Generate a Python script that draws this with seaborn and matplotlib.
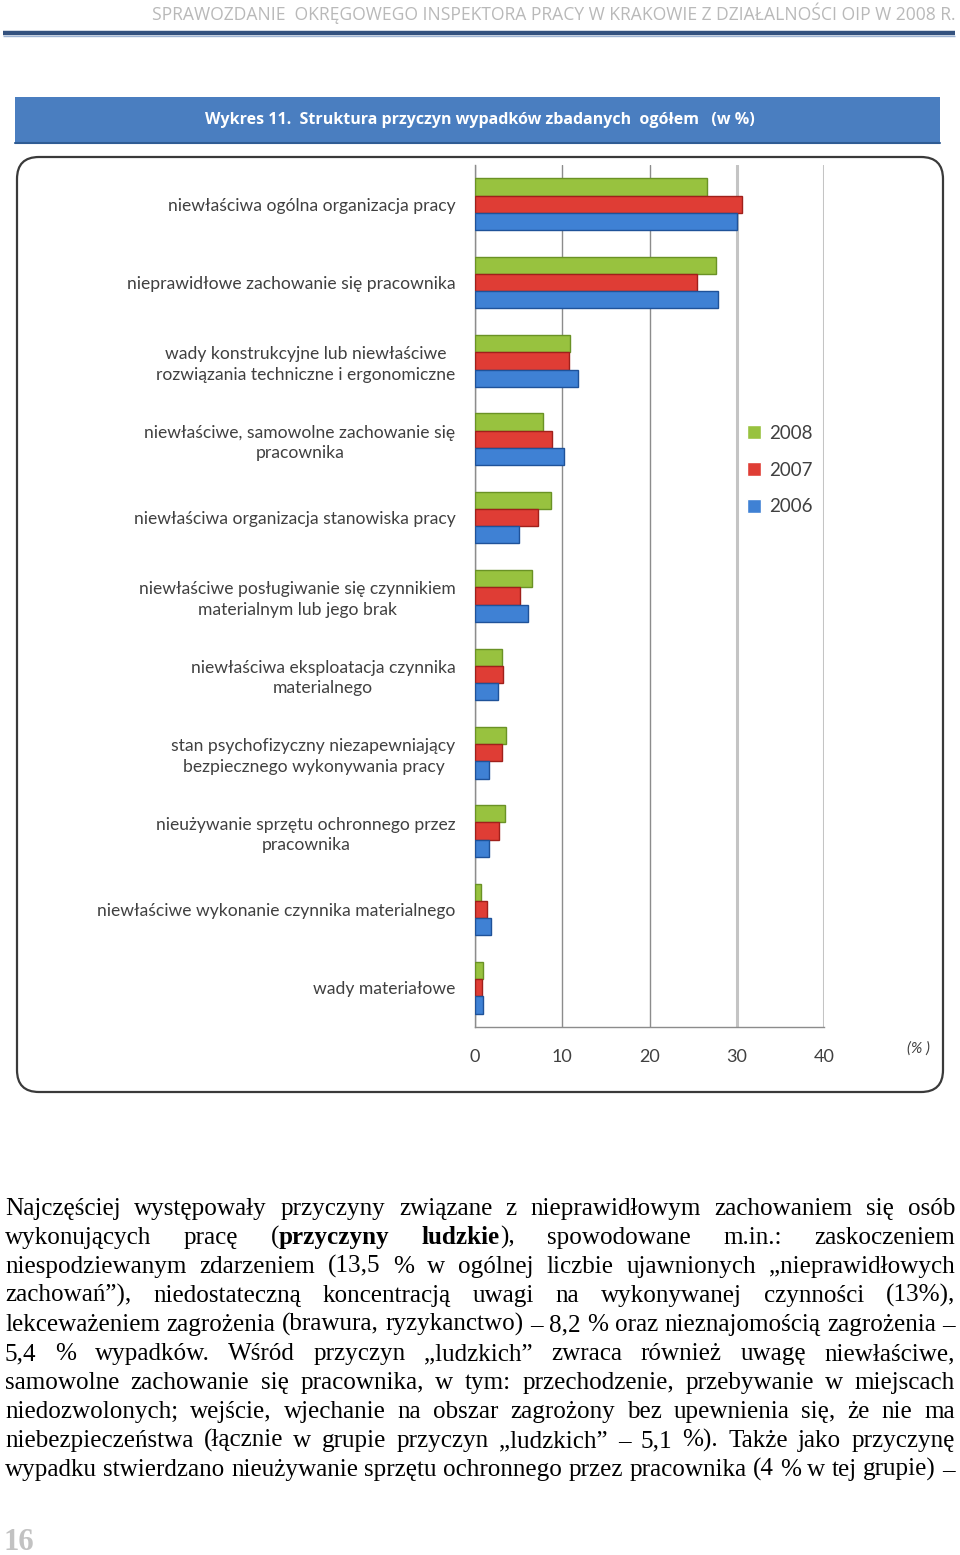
import numpy as np
import pandas as pd
import matplotlib
matplotlib.use("Agg")
import matplotlib.pyplot as plt
import seaborn as sns
import matplotlib.font_manager as fm
from matplotlib.patches import FancyBboxPatch, Rectangle
from matplotlib.lines import Line2D

# ---------------- data ----------------
categories = [
    "niewłaściwa ogólna organizacja pracy",
    "nieprawidłowe zachowanie się pracownika",
    "wady konstrukcyjne lub niewłaściwe\nrozwiązania techniczne i ergonomiczne",
    "niewłaściwe, samowolne zachowanie się\npracownika",
    "niewłaściwa organizacja stanowiska pracy",
    "niewłaściwe posługiwanie się czynnikiem\nmaterialnym lub jego brak",
    "niewłaściwa eksploatacja czynnika\nmaterialnego",
    "stan psychofizyczny niezapewniający\nbezpiecznego wykonywania pracy",
    "nieużywanie sprzętu ochronnego przez\npracownika",
    "niewłaściwe wykonanie czynnika materialnego",
    "wady materiałowe",
]
years = ["2008", "2007", "2006"]
v2008 = [26.6, 27.6, 10.9, 7.8, 8.7, 6.5, 3.1, 3.5, 3.4, 0.7, 0.9]
v2007 = [30.6, 25.5, 10.8, 8.8, 7.2, 5.2, 3.2, 3.1, 2.8, 1.4, 0.8]
v2006 = [30.0, 27.9, 11.8, 10.2, 5.0, 6.1, 2.6, 1.6, 1.6, 1.8, 0.9]
xticks = [0, 10, 20, 30, 40]

header_text = "SPRAWOZDANIE  OKRĘGOWEGO INSPEKTORA PRACY W KRAKOWIE Z DZIAŁALNOŚCI OIP W 2008 R."
chart_title = "Wykres 11.  Struktura przyczyn wypadków zbadanych  ogółem   (w %)"
paragraph_lines = [
    "Najczęściej występowały przyczyny związane z nieprawidłowym zachowaniem się osób",
    "wykonujących pracę (**przyczyny ludzkie**), spowodowane m.in.: zaskoczeniem",
    "niespodziewanym zdarzeniem (13,5 % w ogólnej liczbie ujawnionych „nieprawidłowych",
    "zachowań”), niedostateczną koncentracją uwagi na wykonywanej czynności (13%),",
    "lekceważeniem zagrożenia (brawura, ryzykanctwo) – 8,2 % oraz nieznajomością zagrożenia –",
    "5,4 % wypadków. Wśród przyczyn „ludzkich” zwraca również uwagę niewłaściwe,",
    "samowolne zachowanie się pracownika, w tym: przechodzenie, przebywanie w miejscach",
    "niedozwolonych; wejście, wjechanie na obszar zagrożony bez upewnienia się, że nie ma",
    "niebezpieczeństwa (łącznie w grupie przyczyn „ludzkich” – 5,1 %). Także jako przyczynę",
    "wypadku stwierdzano nieużywanie sprzętu ochronnego przez pracownika (4 % w tej grupie) –",
]
page_number = "16"

# ---------------- setup ----------------
sns.set_style("white")
avail = {f.name for f in fm.fontManager.ttflist}
NARROW = "Liberation Sans Narrow" if "Liberation Sans Narrow" in avail else "Open Sans"
SANS = "Lato" if "Lato" in avail else "DejaVu Sans"
SERIF = "Liberation Serif" if "Liberation Serif" in avail else "DejaVu Serif"
plt.rcParams["font.family"] = [SANS, "DejaVu Sans"]

W, H = 960, 1555
fig = plt.figure(figsize=(W / 100, H / 100), dpi=100)
fig.patch.set_facecolor("white")
renderer = fig.canvas.get_renderer()


def fx(x):
    return x / W


def fy(y):
    return 1 - y / H


def wpx(t):
    return t.get_window_extent(renderer=renderer).width


def fit(t, target):
    w = wpx(t)
    t.set_fontsize(t.get_fontsize() * target / w)


# ---------------- header ----------------
ht = fig.text(fx(955), fy(13), header_text, ha="right", va="center",
              color="#b9b9b9", fontsize=12, family=[NARROW, "DejaVu Sans"])
fit(ht, 803)
fig.add_artist(Line2D([fx(3), fx(955)], [fy(33), fy(33)], lw=3.2, color="#34527f",
                      solid_capstyle="butt"))
fig.add_artist(Line2D([fx(3), fx(955)], [fy(35.5), fy(35.5)], lw=1.0, color="#9db3d3",
                      solid_capstyle="butt"))

# ---------------- banner ----------------
fig.add_artist(Rectangle((fx(15), fy(143)), fx(940) - fx(15), (143 - 97) / H,
                         transform=fig.transFigure, facecolor="#4a7ec0",
                         edgecolor="none"))
fig.add_artist(Line2D([fx(15), fx(940)], [fy(142.5), fy(142.5)], lw=1.5, color="#2f5c94"))
tt = fig.text(fx(480), fy(120), chart_title, ha="center", va="center", color="white",
              fontsize=12, fontweight="bold", family=[NARROW, "DejaVu Sans"])
fit(tt, 550)

# ---------------- chart frame ----------------
frame = FancyBboxPatch((0.17, (H - 1092) / 100), (943 - 17) / 100, (1092 - 157) / 100,
                       boxstyle="round,pad=0,rounding_size=0.22",
                       transform=fig.dpi_scale_trans, facecolor="white",
                       edgecolor="#3a3a3a", lw=1.6, zorder=0)
fig.add_artist(frame)

# ---------------- bar chart ----------------
df = pd.DataFrame({
    "category": categories * 3,
    "year": ["2008"] * 11 + ["2007"] * 11 + ["2006"] * 11,
    "value": v2008 + v2007 + v2006,
})
palette = {"2008": "#98c23f", "2007": "#df3d35", "2006": "#3f81d4"}
edges = {"2008": "#6a9225", "2007": "#a0201b", "2006": "#1f5299"}

ax = fig.add_axes([fx(475), fy(1027), fx(824) - fx(475), (1027 - 165) / H])
ax.set_facecolor("none")
sns.barplot(data=df, x="value", y="category", hue="year", hue_order=years,
            order=categories, palette=palette, orient="h", width=0.66,
            saturation=1, ax=ax, dodge=True)
for cont, yr in zip(ax.containers, years):
    for p in cont:
        p.set_edgecolor(edges[yr])
        p.set_linewidth(1.0)
        p.set_zorder(3)

ax.set_xlim(0, 40)
ax.set_ylim(10.5, -0.5)
ax.set_xticks(xticks)
ax.set_xticklabels([str(v) for v in xticks])
ax.set_xlabel("")
ax.set_ylabel("")
ax.xaxis.grid(True, color="#b0b0b0", lw=1.3)
ax.yaxis.grid(False)
ax.set_axisbelow(True)
gl = ax.get_xgridlines()
for g, c, lw in zip(gl, ["#8c8c8c", "#8c8c8c", "#8c8c8c", "#c4c4c4", "#c4c4c4"],
                    [1.0, 1.0, 1.0, 2.2, 2.2]):
    g.set_color(c)
    g.set_linewidth(lw)
for s in ["top", "right"]:
    ax.spines[s].set_visible(False)
for s in ["left", "bottom"]:
    ax.spines[s].set_color("#8c8c8c")
    ax.spines[s].set_linewidth(1.0)
ax.tick_params(axis="x", length=5, color="#8c8c8c", pad=11, labelsize=13,
               labelcolor="#404040")
ax.tick_params(axis="y", which="major", length=0, pad=14, labelsize=12,
               labelcolor="#404040")
ax.set_yticks(np.arange(-0.5, 11, 1), minor=True)
ax.tick_params(axis="y", which="minor", length=5, color="#8c8c8c")
for lbl in ax.get_yticklabels():
    lbl.set_multialignment("center")
    lbl.set_linespacing(1.35)

# fit category label font size
probe = fig.text(0, 0, categories[0], fontsize=12)
lab_fs = 12 * 286 / wpx(probe)
probe.remove()
for lbl in ax.get_yticklabels():
    lbl.set_fontsize(lab_fs)

# legend
handles, labels = ax.get_legend_handles_labels()
if ax.get_legend() is not None:
    ax.get_legend().remove()
leg = fig.legend(handles, labels, loc="center left",
                 bbox_to_anchor=(fx(747), fy(470)), frameon=False,
                 fontsize=13.5, labelcolor="#404040", handlelength=0.75,
                 handleheight=0.75, handletextpad=0.45, labelspacing=1.05,
                 borderaxespad=0, borderpad=0)

fig.text(fx(918), fy(1049), "(% )", ha="center", va="center", fontsize=11,
         style="italic", color="#404040")

# ---------------- paragraph (justified) ----------------
def parse(line):
    words = []
    bold = False
    for w in line.split(" "):
        if w == "":
            continue
        segs = []
        parts = w.split("**")
        for i, p in enumerate(parts):
            if i > 0:
                bold = not bold
            if p:
                segs.append((p, bold))
        words.append(segs)
    return words


def seg_width(txt, bold, fs):
    t = fig.text(0, 0, txt, fontsize=fs, family=SERIF,
                 fontweight="bold" if bold else "normal")
    w = wpx(t)
    t.remove()
    return w


base = 10.0
parsed = [parse(l) for l in paragraph_lines]
sp_base = seg_width("x x", False, base) - seg_width("xx", False, base)
nat = []
for words in parsed:
    tot = sum(seg_width(s, b, base) for wd in words for s, b in wd)
    nat.append(tot + sp_base * (len(words) - 1))
fs_par = base * 950 / max(nat)

left, right = 5, 955
for i, words in enumerate(parsed):
    ybase = 1215 + 29 * i
    widths = [[seg_width(s, b, fs_par) for s, b in wd] for wd in words]
    total = sum(sum(w) for w in widths)
    gap = (right - left - total) / (len(words) - 1)
    x = left
    for wd, ws in zip(words, widths):
        for (s, b), w in zip(wd, ws):
            fig.text(fx(x), fy(ybase), s, fontsize=fs_par, family=SERIF,
                     fontweight="bold" if b else "normal", ha="left",
                     va="baseline", color="black")
            x += w
        x += gap

# page number
fig.text(fx(4), fy(1550), page_number, ha="left", va="baseline", fontsize=22,
         family=SERIF, fontweight="bold", color="#c2c2c2")

fig.savefig("out.png", dpi=100, facecolor="white")
